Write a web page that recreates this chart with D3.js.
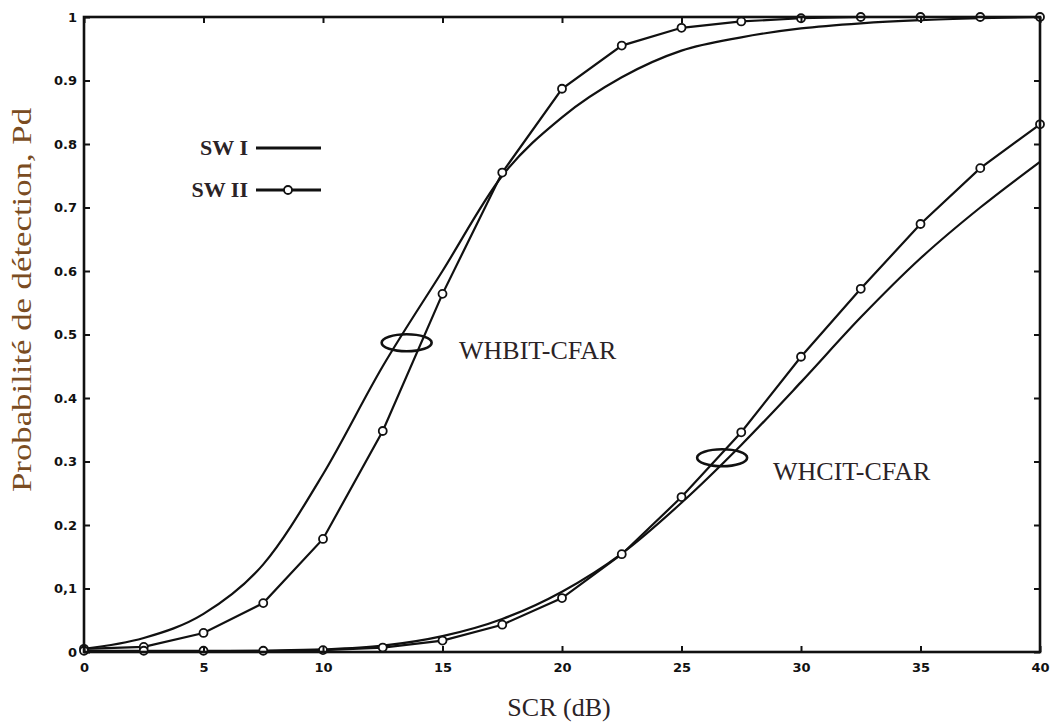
<!DOCTYPE html>
<html>
<head>
<meta charset="utf-8">
<script src="https://cdn.jsdelivr.net/npm/d3@7"></script>
<style>
  html, body { margin: 0; padding: 0; background: #ffffff; }
  svg { display: block; }
</style>
</head>
<body>
<svg id="chart" width="1052" height="726"></svg>
<script>
// SCR values (dB) at which Pd was evaluated
const scr = [0, 2.5, 5, 7.5, 10, 12.5, 15, 17.5, 20, 22.5, 25, 27.5, 30, 32.5, 35, 37.5, 40];

// Detection probability, WHBIT-CFAR
const whbitSW1 = [0.005, 0.022, 0.06, 0.138, 0.28, 0.45, 0.60, 0.75, 0.842, 0.905, 0.947, 0.968, 0.982, 0.99, 0.995, 0.998, 1.0];
const whbitSW2 = [0.005, 0.008, 0.03, 0.077, 0.178, 0.348, 0.564, 0.755, 0.887, 0.955, 0.983, 0.993, 0.998, 1.0, 1.0, 1.0, 1.0];

// Detection probability, WHCIT-CFAR
const whcitSW1 = [0.0, 0.0, 0.001, 0.002, 0.004, 0.01, 0.025, 0.052, 0.095, 0.155, 0.235, 0.326, 0.425, 0.527, 0.62, 0.70, 0.772];
const whcitSW2 = [0.002, 0.002, 0.002, 0.002, 0.003, 0.007, 0.018, 0.043, 0.085, 0.154, 0.244, 0.346, 0.465, 0.572, 0.674, 0.762, 0.831];

// Axis ticks
const xTicks = [0, 5, 10, 15, 20, 25, 30, 35, 40];
const yTicks = [0, 0.1, 0.2, 0.3, 0.4, 0.5, 0.6, 0.7, 0.8, 0.9, 1];
const yTickLabels = ["0", "0,1", "0.2", "0.3", "0.4", "0.5", "0.6", "0.7", "0.8", "0.9", "1"];

const svg = d3.select("#chart");
const x = d3.scaleLinear().domain([0, 40]).range([84, 1040]);
const y = d3.scaleLinear().domain([0, 1]).range([652, 17]);

const ink = "#111";
const textInk = "#2b2326";

// Curves
const smooth = d3.line().x((d, i) => x(scr[i])).y(d => y(d)).curve(d3.curveMonotoneX);
const straight = d3.line().x((d, i) => x(scr[i])).y(d => y(d));

const curves = svg.append("g").attr("fill", "none").attr("stroke", ink).attr("stroke-width", 2.2);
[whbitSW1, whcitSW1].forEach(s => curves.append("path").attr("d", smooth(s)));
[whbitSW2, whcitSW2].forEach(s => curves.append("path").attr("d", straight(s)));

const marks = svg.append("g").attr("fill", "#fff").attr("stroke", ink).attr("stroke-width", 1.8);
[whbitSW2, whcitSW2].forEach(s => {
  marks.selectAll(null).data(s).enter().append("circle")
    .attr("cx", (d, i) => x(scr[i]))
    .attr("cy", d => y(d))
    .attr("r", 4);
});

// Frame with inward ticks on all four sides
const tickLen = 6;
const frame = svg.append("g").attr("stroke", ink);
frame.append("rect")
  .attr("x", x(0)).attr("y", y(1))
  .attr("width", x(40) - x(0)).attr("height", y(0) - y(1))
  .attr("fill", "none").attr("stroke-width", 2.6);

const axisFont = "'DejaVu Sans', sans-serif";
const bottomAxis = d3.axisBottom(x).tickValues(xTicks).tickSize(-tickLen).tickPadding(11).tickFormat(d3.format("d"));
const topAxis = d3.axisTop(x).tickValues(xTicks).tickSize(-tickLen).tickFormat("");
const leftAxis = d3.axisLeft(y).tickValues(yTicks).tickSize(-tickLen).tickPadding(7)
  .tickFormat((d, i) => yTickLabels[i]);
const rightAxis = d3.axisRight(y).tickValues(yTicks).tickSize(-tickLen).tickFormat("");

function styleAxis(g) {
  g.select(".domain").remove();
  g.selectAll(".tick line").attr("stroke", ink).attr("stroke-width", 2);
  g.selectAll(".tick text")
    .attr("fill", ink)
    .style("font-family", axisFont)
    .style("font-weight", "bold")
    .style("font-size", "13px");
}

svg.append("g").attr("transform", `translate(0,${y(0)})`).call(bottomAxis).call(styleAxis);
svg.append("g").attr("transform", `translate(0,${y(1)})`).call(topAxis).call(styleAxis);
svg.append("g").attr("transform", `translate(${x(0)},0)`).call(leftAxis).call(styleAxis);
svg.append("g").attr("transform", `translate(${x(40)},0)`).call(rightAxis).call(styleAxis);

// Axis titles
const serif = "'Liberation Serif', 'Times New Roman', serif";
svg.append("text")
  .attr("x", 559).attr("y", 716)
  .attr("text-anchor", "middle")
  .attr("fill", textInk)
  .style("font-family", serif).style("font-size", "26px")
  .text("SCR (dB)");

svg.append("text")
  .attr("transform", "translate(31,300) rotate(-90)")
  .attr("text-anchor", "middle")
  .attr("fill", "#7a4c22")
  .attr("textLength", 384)
  .attr("lengthAdjust", "spacingAndGlyphs")
  .style("font-family", serif).style("font-size", "27px")
  .text("Probabilité de détection, Pd");

// Group annotations: ellipse around both curves plus name
const groups = [
  { name: "WHBIT-CFAR", at: 13.5, val: 0.487, tx: 459, ty: 359 },
  { name: "WHCIT-CFAR", at: 26.7, val: 0.306, tx: 773, ty: 480 }
];
groups.forEach(g => {
  svg.append("ellipse")
    .attr("cx", x(g.at)).attr("cy", y(g.val))
    .attr("rx", 25).attr("ry", 8.5)
    .attr("fill", "none").attr("stroke", ink).attr("stroke-width", 2.6);
  svg.append("text")
    .attr("x", g.tx).attr("y", g.ty)
    .attr("fill", textInk)
    .style("font-family", serif).style("font-size", "26px")
    .text(g.name);
});

// Legend
const legend = [
  { label: "SW I", ty: 155, ly: 148, marker: false },
  { label: "SW II", ty: 197, ly: 190, marker: true }
];
legend.forEach(l => {
  svg.append("text")
    .attr("x", 248).attr("y", l.ty)
    .attr("text-anchor", "end")
    .attr("fill", textInk)
    .style("font-family", serif).style("font-size", "22px").style("font-weight", "bold")
    .text(l.label);
  svg.append("line")
    .attr("x1", 256).attr("x2", 321).attr("y1", l.ly).attr("y2", l.ly)
    .attr("stroke", ink).attr("stroke-width", 3);
  if (l.marker) {
    svg.append("circle")
      .attr("cx", 288).attr("cy", l.ly).attr("r", 4)
      .attr("fill", "#fff").attr("stroke", ink).attr("stroke-width", 1.8);
  }
});
</script>
</body>
</html>
